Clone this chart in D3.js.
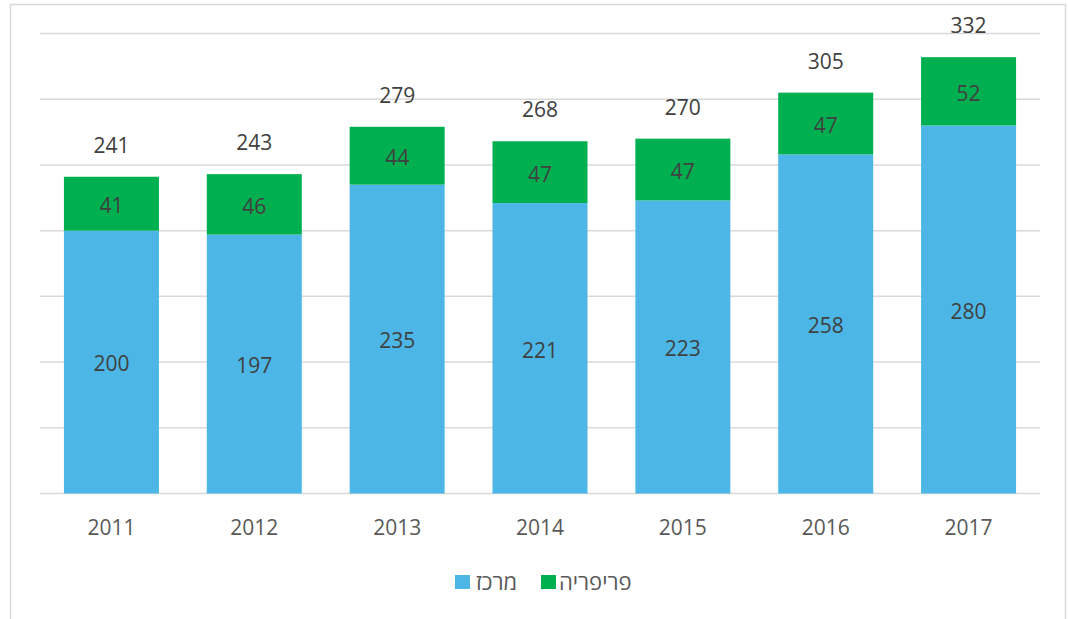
<!DOCTYPE html>
<html><head><meta charset="utf-8">
<script src="https://cdn.jsdelivr.net/npm/d3@7"></script>
<style>
html,body{margin:0;padding:0;background:#fff;}
svg{display:block;font-family:"Open Sans","Noto Sans",sans-serif;}
</style></head>
<body>
<svg id="chart" width="1068" height="619"></svg>
<script>
const years = ["2011","2012","2013","2014","2015","2016","2017"];
const center = [200,197,235,221,223,258,280];
const periphery = [41,46,44,47,47,47,52];
const totals = [241,243,279,268,270,305,332];
const seriesNames = ["מרכז","פריפריה"];
const seriesColors = ["#4cb7e6","#00b050"];
const yTicks = [0,50,100,150,200,250,300,350];

const svg = d3.select("#chart");
// frame
svg.append("rect").attr("x",10.5).attr("y",4.5).attr("width",1055).attr("height",630)
  .attr("fill","none").attr("stroke","#d9d9d9").attr("stroke-width",1.5);

const x = d3.scaleBand().domain(years).range([40,1040]).paddingInner(0.335).paddingOuter(0.1675);
const y = d3.scaleLinear().domain([0,350]).range([493.5,33.5]);

// grid
svg.append("g").selectAll("line").data(yTicks).join("line")
  .attr("x1",40).attr("x2",1040)
  .attr("y1",d=>y(d)).attr("y2",d=>y(d))
  .attr("stroke","#d9d9d9").attr("stroke-width",1.5);

const rows = years.map((yr,i)=>({year:yr, c:center[i], p:periphery[i], t:totals[i]}));
const stack = d3.stack().keys(["c","p"])(rows);

stack.forEach((layer,li)=>{
  const g = svg.append("g");
  g.selectAll("rect").data(layer).join("rect")
    .attr("x",d=>x(d.data.year)).attr("width",x.bandwidth())
    .attr("y",d=>y(d[1])).attr("height",d=>y(d[0])-y(d[1]))
    .attr("fill",seriesColors[li]);
  g.selectAll("text").data(layer).join("text")
    .attr("x",d=>x(d.data.year)+x.bandwidth()/2)
    .attr("y",d=>(y(d[0])+y(d[1]))/2 + 2)
    .attr("dy","0.35em").attr("text-anchor","middle")
    .attr("font-size",21).attr("fill","#404040")
    .text(d=>d[1]-d[0]);
});

// totals
svg.append("g").selectAll("text").data(rows).join("text")
  .attr("x",d=>x(d.year)+x.bandwidth()/2)
  .attr("y",d=>y(d.t)-24)
  .attr("text-anchor","middle").attr("font-size",21).attr("fill","#404040")
  .text(d=>d.t);

// x axis
const xAxis = d3.axisBottom(x).tickSize(0).tickPadding(0);
const ax = svg.append("g").attr("transform","translate(0,"+y(0)+")").call(xAxis);
ax.select(".domain").remove();
ax.selectAll("text").attr("y",41).attr("dy",0).attr("font-size",21)
  .attr("fill","#595959").attr("font-family","\"Open Sans\",\"Noto Sans\",sans-serif");

// legend
const legend = [{name:seriesNames[0],color:seriesColors[0],sx:455,tx:476},
                {name:seriesNames[1],color:seriesColors[1],sx:541,tx:559}];
const lg = svg.append("g");
legend.forEach(l=>{
  lg.append("rect").attr("x",l.sx).attr("y",575).attr("width",15).attr("height",14).attr("fill",l.color);
  lg.append("text").attr("x",l.tx).attr("y",590).attr("font-size",22).attr("fill","#595959")
    .attr("text-anchor","start").attr("direction","ltr").attr("unicode-bidi","plaintext").text(l.name);
});
</script>
</body></html>
